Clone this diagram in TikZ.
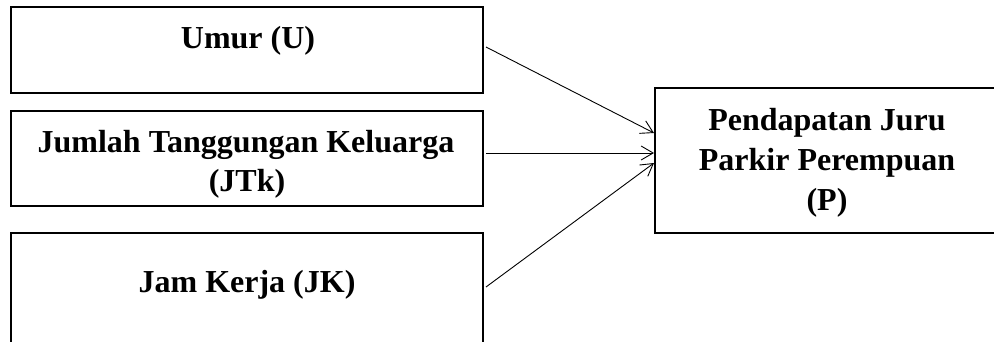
\documentclass[tikz,border=0pt]{standalone}
\usepackage{fontspec}
\setmainfont{Liberation Serif}
\usetikzlibrary{arrows.meta,calc}
\begin{document}
\begin{tikzpicture}[x=1pt,y=1pt,
  boxstyle/.style={draw=black,line width=2pt,inner sep=0pt,minimum width=#1},
  txt/.style={anchor=base,inner sep=0pt,font=\fontsize{32}{32}\selectfont\bfseries},
  arr/.style={line width=0.9pt,-{Straight Barb[length=12pt,width=14pt,line width=0.9pt]}}]
\clip (0,0) rectangle (994,341);
\fill[white] (0,0) rectangle (994,341);
% boxes
\node[boxstyle=472pt,minimum height=86pt] (u) at (247,291) {};
\node[boxstyle=472pt,minimum height=95pt] (jtk) at (247,182.5) {};
\node[boxstyle=472pt,minimum height=120pt] (jk) at (247,48) {};
\node[boxstyle=350pt,minimum height=145pt] (p) at (830,180.5) {};
% texts
\node[txt] (tu) at (248,293) {Umur (U)};
\node[txt] (tjtk1) at (246,189) {Jumlah Tanggungan Keluarga};
\node[txt] (tjtk2) at (247,150) {(JTk)};
\node[txt] (tjk) at (247,49) {Jam Kerja (JK)};
\node[txt] (tp1) at (827,210.5) {Pendapatan Juru};
\node[txt] (tp2) at (827,170.5) {Parkir Perempuan};
\node[txt] (tp3) at (827,131) {(P)};
% connectors
\draw[arr] ($(u.east)+(2,3)$) -- ($(p.west)+(0,27.5)$);
\draw[arr] ($(jtk.east)+(2,5.5)$) -- ($(p.west)+(0,7.5)$);
\draw[arr] ($(jk.east)+(2,6)$) -- ($(p.west)+(0,-2.5)$);
\end{tikzpicture}
\end{document}
